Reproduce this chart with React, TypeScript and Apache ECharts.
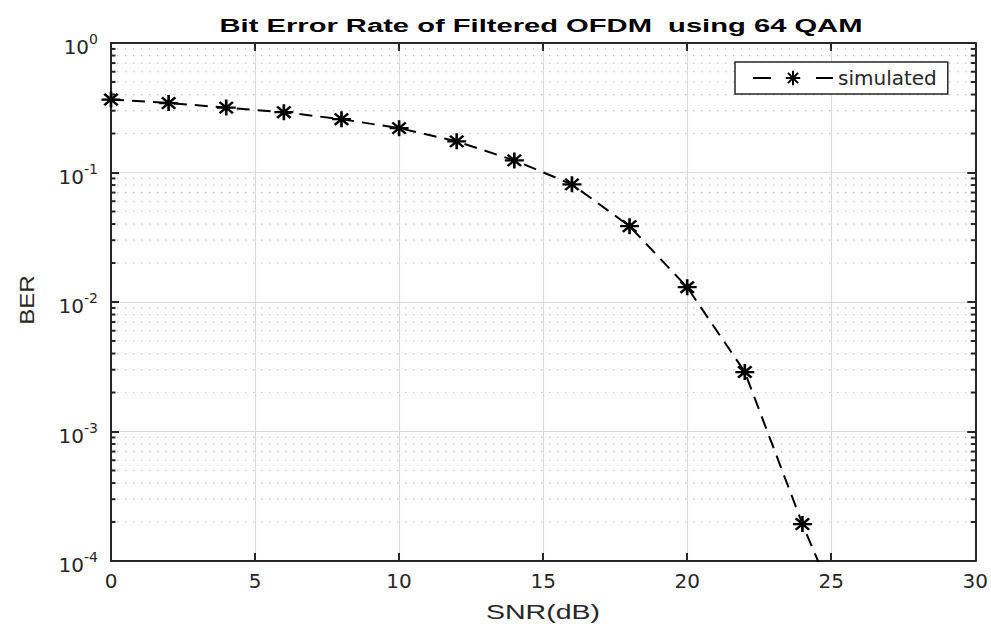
import React, { useEffect, useRef } from "react";
import * as echarts from "echarts";

// ---- data ----
const snrDb = [0, 2, 4, 6, 8, 10, 12, 14, 16, 18, 20, 22, 24, 26];
const berSimulated = [
  0.366, 0.344, 0.317, 0.292, 0.258, 0.22, 0.174, 0.124, 0.081, 0.0385, 0.013,
  0.00288, 0.000193, 0.000017,
];
const seriesName = "simulated";
const titleText = "Bit Error Rate of Filtered OFDM  using 64 QAM";
const xAxisTitle = "SNR(dB)";
const yAxisTitle = "BER";
const xMin = 0;
const xMax = 30;
const xInterval = 5;
const yMin = 1e-4;
const yMax = 1;
const decades = [1e-4, 1e-3, 1e-2, 1e-1];
const minorMultipliers = [2, 3, 4, 5, 6, 7, 8, 9];

const minorValues: number[] = [];
decades.forEach((d) => minorMultipliers.forEach((m) => minorValues.push(d * m)));

function asteriskPath(): string {
  const L = 10;
  const h = 1.4;
  let d = "";
  [0, 45, 90, 135].forEach((deg) => {
    const a = (deg * Math.PI) / 180;
    const c = Math.cos(a);
    const s = Math.sin(a);
    const pts = [
      [L, h],
      [-L, h],
      [-L, -h],
      [L, -h],
    ].map(([x, y]) => [x * c - y * s, x * s + y * c]);
    d += "M" + pts.map((p) => p[0].toFixed(3) + " " + p[1].toFixed(3)).join("L") + "Z";
  });
  return "path://" + d;
}

const AXIS_COLOR = "#262626";
const TICK_FONT = "DejaVu Sans";

export default function App() {
  const ref = useRef<HTMLDivElement>(null);

  useEffect(() => {
    if (!ref.current) return;
    const chart = echarts.init(ref.current, undefined, { renderer: "svg" });
    const star = asteriskPath();

    const yLabelFormatter = (v: number) => {
      const e = Math.round(Math.log10(v));
      return "{b|10}{e|" + e + "}";
    };

    const option: any = {
      animation: false,
      backgroundColor: "#ffffff",
      grid: { left: 111, right: 14, top: 43, bottom: 63, containLabel: false },
      legend: {
        data: [seriesName],
        left: 735,
        top: 62,
        orient: "horizontal",
        padding: [6, 11, 6, 17],
        itemWidth: 80,
        itemHeight: 18,
        backgroundColor: "#ffffff",
        borderColor: AXIS_COLOR,
        borderWidth: 1.5,
        borderRadius: 0,
        textStyle: { fontFamily: TICK_FONT, fontSize: 20, color: AXIS_COLOR },
        lineStyle: { type: [18, 45], width: 2, color: "#000" },
      },
      xAxis: [
        {
          type: "value",
          position: "bottom",
          min: xMin,
          max: xMax,
          interval: xInterval,
          axisLine: { show: true, onZero: false, lineStyle: { color: AXIS_COLOR, width: 2 } },
          axisTick: { show: true, inside: true, length: 8, lineStyle: { color: AXIS_COLOR, width: 2 } },
          axisLabel: { fontFamily: TICK_FONT, fontSize: 20, color: AXIS_COLOR, margin: 10 },
          splitLine: { show: true, lineStyle: { color: "#dadada", width: 1.2 } },
        },
        {
          type: "value",
          position: "top",
          min: xMin,
          max: xMax,
          interval: xInterval,
          axisLine: { show: true, onZero: false, lineStyle: { color: AXIS_COLOR, width: 2 } },
          axisTick: { show: true, inside: true, length: 8, lineStyle: { color: AXIS_COLOR, width: 2 } },
          axisLabel: { show: false },
          splitLine: { show: false },
        },
      ],
      yAxis: [
        {
          type: "log",
          logBase: 10,
          position: "left",
          min: yMin,
          max: yMax,
          axisLine: { show: true, onZero: false, lineStyle: { color: AXIS_COLOR, width: 2 } },
          axisTick: { show: true, inside: true, length: 8, lineStyle: { color: AXIS_COLOR, width: 2 } },
          axisLabel: {
            formatter: yLabelFormatter,
            margin: 13,
            padding: [8, 0, 0, 0],
            rich: {
              b: { fontFamily: TICK_FONT, fontSize: 20, color: AXIS_COLOR, lineHeight: 30 },
              e: { fontFamily: TICK_FONT, fontSize: 14, color: AXIS_COLOR, verticalAlign: "top", lineHeight: 17 },
            },
          },
          splitLine: { show: true, lineStyle: { color: "#dadada", width: 1.2 } },
        },
        {
          type: "log",
          logBase: 10,
          position: "right",
          min: yMin,
          max: yMax,
          axisLine: { show: true, onZero: false, lineStyle: { color: AXIS_COLOR, width: 2 } },
          axisTick: { show: true, inside: true, length: 8, lineStyle: { color: AXIS_COLOR, width: 2 } },
          axisLabel: { show: false },
          splitLine: { show: false },
        },
      ],
      series: [
        {
          type: "custom",
          name: "minorGrid",
          silent: true,
          z: 1,
          xAxisIndex: 0,
          yAxisIndex: 0,
          encode: { x: 0, y: 1 },
          data: minorValues.map((v) => [xMin, v]),
          renderItem: (params: any, api: any) => {
            const v = api.value(1);
            const pL = api.coord([xMin, v]);
            const pR = api.coord([xMax, v]);
            return {
              type: "group",
              children: [
                {
                  type: "line",
                  shape: { x1: pL[0] + 6, y1: pL[1], x2: pR[0] - 6, y2: pR[1] },
                  style: { stroke: "#bdbdbd", lineWidth: 1.2, lineDash: [1.4, 6.6] },
                },
                {
                  type: "line",
                  shape: { x1: pL[0], y1: pL[1], x2: pL[0] + 4.5, y2: pL[1] },
                  style: { stroke: AXIS_COLOR, lineWidth: 2 },
                },
                {
                  type: "line",
                  shape: { x1: pR[0] - 4.5, y1: pR[1], x2: pR[0], y2: pR[1] },
                  style: { stroke: AXIS_COLOR, lineWidth: 2 },
                },
              ],
            };
          },
        },
        {
          type: "line",
          name: seriesName,
          z: 3,
          xAxisIndex: 0,
          yAxisIndex: 0,
          clip: true,
          data: snrDb.map((x, i) => [x, berSimulated[i]]),
          symbol: star,
          symbolSize: [19, 16],
          showSymbol: true,
          lineStyle: { color: "#000", width: 2, type: [13, 8] },
          itemStyle: { color: "#000", borderWidth: 0 },
        },
      ],
      graphic: [
        {
          type: "text",
          x: 541,
          y: 26,
          scaleX: 1.62,
          style: {
            text: titleText,
            fontFamily: "Liberation Sans",
            fontWeight: "bold",
            fontSize: 18,
            fill: "#000",
            align: "center",
            verticalAlign: "middle",
          },
        },
        {
          type: "text",
          x: 543,
          y: 611,
          scaleX: 1.36,
          style: {
            text: xAxisTitle,
            fontFamily: "Liberation Sans",
            fontSize: 21,
            fill: AXIS_COLOR,
            align: "center",
            verticalAlign: "middle",
          },
        },
        {
          type: "text",
          x: 27,
          y: 300,
          rotation: Math.PI / 2,
          scaleX: 1.15,
          style: {
            text: yAxisTitle,
            fontFamily: "Liberation Sans",
            fontSize: 21,
            fill: AXIS_COLOR,
            align: "center",
            verticalAlign: "middle",
          },
        },
      ],
    };

    chart.setOption(option);
    return () => chart.dispose();
  }, []);

  return (
    <div
      ref={ref}
      style={{ position: "absolute", left: 0, top: 0, width: 991, height: 624, background: "#fff" }}
    />
  );
}
